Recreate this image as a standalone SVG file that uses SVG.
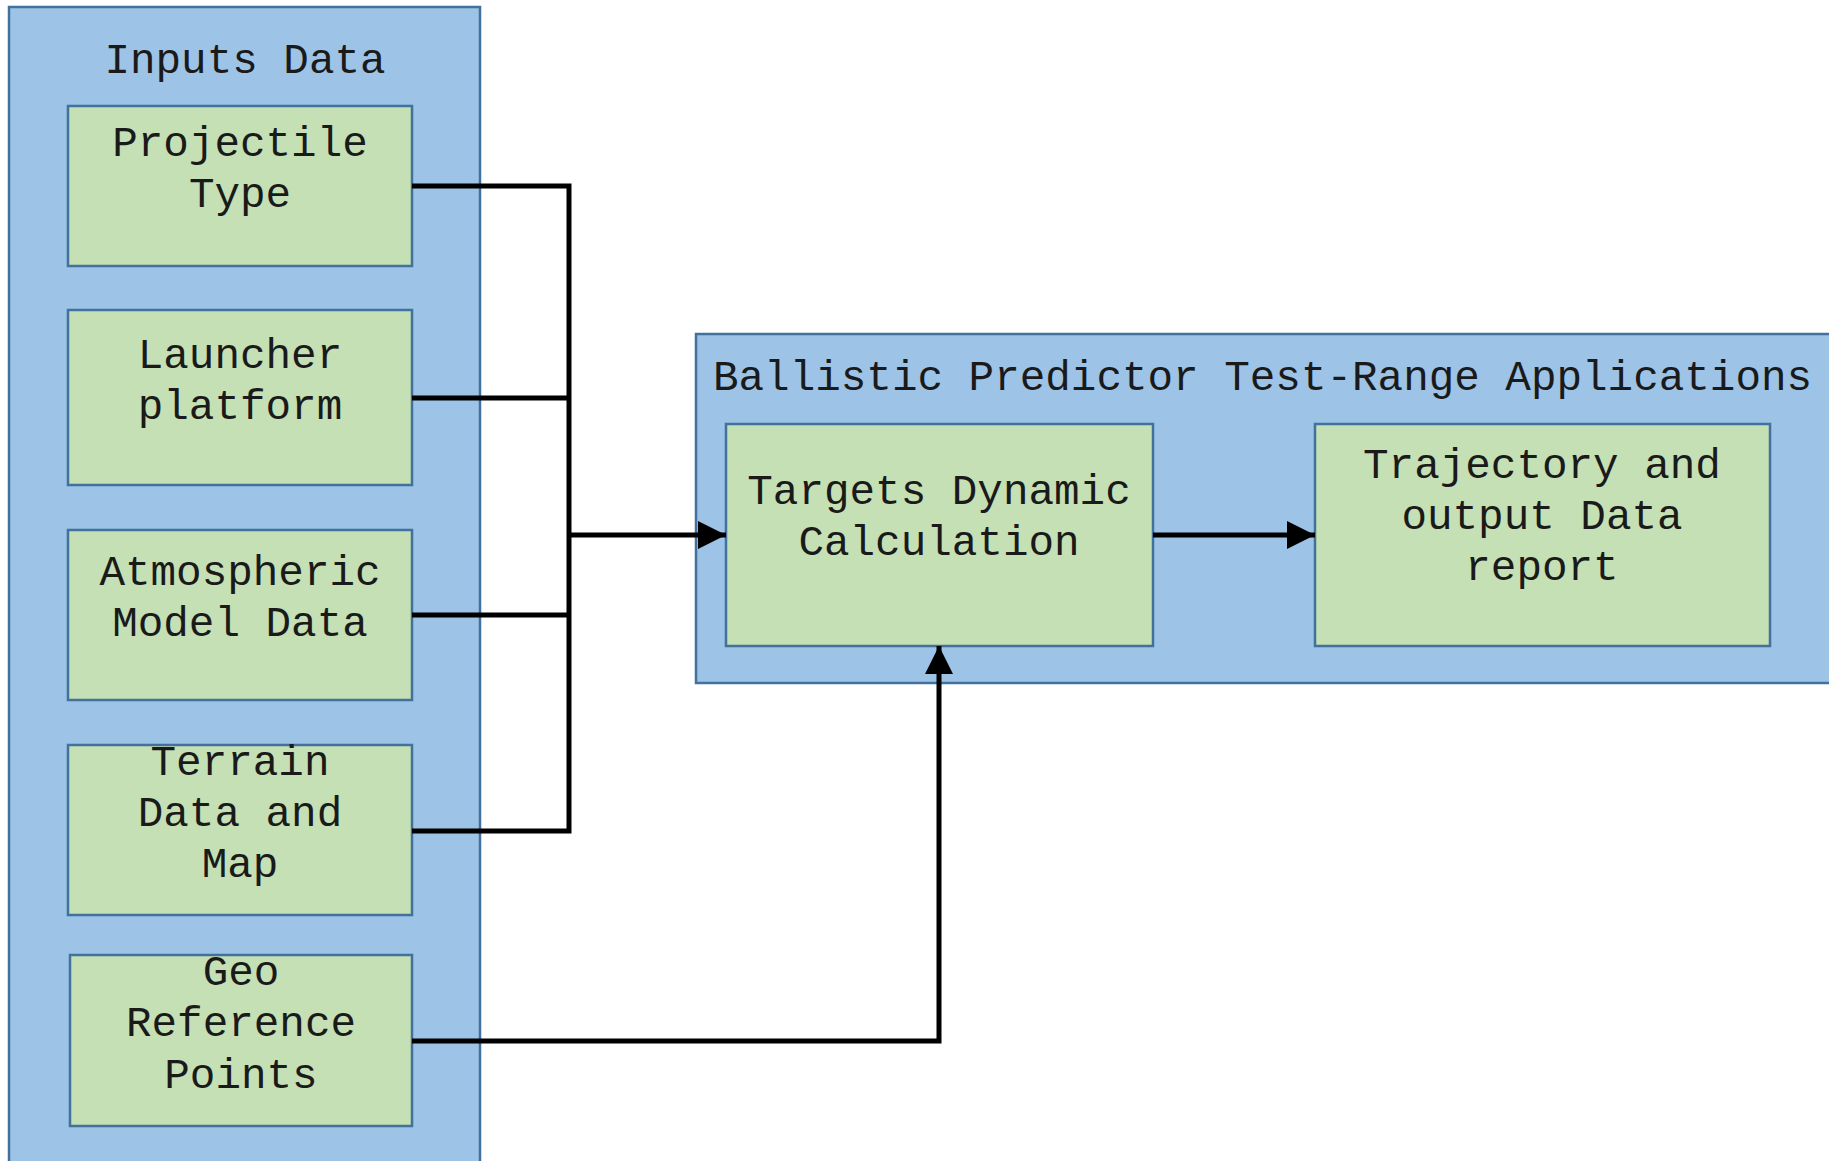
<svg xmlns="http://www.w3.org/2000/svg" width="1829" height="1161" viewBox="0 0 1829 1161">
  <style>
    .group { fill: #9DC3E6; stroke: #41719C; stroke-width: 2.5; }
    .box { fill: #C5E0B4; stroke: #41719C; stroke-width: 2.5; }
    .label { font-family: "Liberation Mono", "Courier New", monospace; font-size: 42.6px; fill: #1a1a1a; text-anchor: middle; }
    .title { text-anchor: start; }
    .wire { fill: none; stroke: #000; stroke-width: 5; stroke-linejoin: miter; }
  </style>
  <defs>
    <marker id="arrow" markerUnits="userSpaceOnUse" markerWidth="30" markerHeight="30" refX="28" refY="14" orient="auto">
      <path d="M0,0 L28,14 L0,28 z" fill="#000"/>
    </marker>
  </defs>
  <rect width="1829" height="1161" fill="#fff"/>

  <!-- containers -->
  <g id="inputs-data">
    <rect class="group" x="9" y="7" width="471" height="1170"/>
    <text class="label" x="245" y="73">Inputs Data</text>
  </g>
  <g id="ballistic-predictor">
    <rect class="group" x="696" y="334" width="1160" height="349"/>
    <text class="label title" x="713" y="390">Ballistic Predictor Test-Range Applications</text>
  </g>

  <!-- input nodes -->
  <g id="projectile-type">
    <rect class="box" x="68" y="106" width="344" height="160"/>
    <text class="label" x="240" y="156">Projectile</text>
    <text class="label" x="240" y="207">Type</text>
  </g>
  <g id="launcher-platform">
    <rect class="box" x="68" y="310" width="344" height="175"/>
    <text class="label" x="240" y="368">Launcher</text>
    <text class="label" x="240" y="419">platform</text>
  </g>
  <g id="atmospheric-model">
    <rect class="box" x="68" y="530" width="344" height="170"/>
    <text class="label" x="240" y="585">Atmospheric</text>
    <text class="label" x="240" y="636">Model Data</text>
  </g>
  <g id="terrain-data">
    <rect class="box" x="68" y="745" width="344" height="170"/>
    <text class="label" x="240" y="775">Terrain</text>
    <text class="label" x="240" y="826">Data and</text>
    <text class="label" x="240" y="877">Map</text>
  </g>
  <g id="geo-reference">
    <rect class="box" x="70" y="955" width="342" height="171"/>
    <text class="label" x="241" y="985">Geo</text>
    <text class="label" x="241" y="1036">Reference</text>
    <text class="label" x="241" y="1088">Points</text>
  </g>

  <!-- application nodes -->
  <g id="targets-dynamic">
    <rect class="box" x="726" y="424" width="427" height="222"/>
    <text class="label" x="939" y="504">Targets Dynamic</text>
    <text class="label" x="939" y="555">Calculation</text>
  </g>
  <g id="trajectory-report">
    <rect class="box" x="1315" y="424" width="455" height="222"/>
    <text class="label" x="1542" y="478">Trajectory and</text>
    <text class="label" x="1542" y="529">output Data</text>
    <text class="label" x="1542" y="580">report</text>
  </g>

  <!-- connectors -->
  <g id="connectors">
    <path class="wire" d="M412,186 H569 V831 H412"/>
    <path class="wire" d="M412,398 H569"/>
    <path class="wire" d="M412,615 H569"/>
    <path class="wire" d="M569,535 H726" marker-end="url(#arrow)"/>
    <path class="wire" d="M1153,535 H1315" marker-end="url(#arrow)"/>
    <path class="wire" d="M412,1041 H939 V646" marker-end="url(#arrow)"/>
  </g>
</svg>
